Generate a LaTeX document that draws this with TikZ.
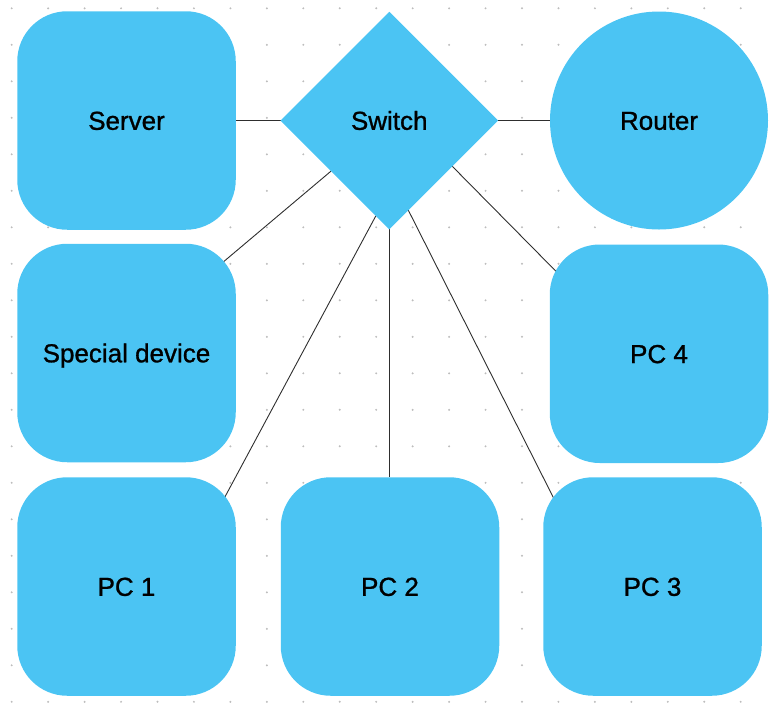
\documentclass[tikz,border=0pt]{standalone}
\usepackage{fontspec}
\setmainfont{Liberation Sans}
\newfontfamily\devicefont[FakeBold=1]{Liberation Sans}
\usepackage{xcolor}
\usetikzlibrary{positioning, shapes.geometric, calc, backgrounds}
\definecolor{devblue}{HTML}{4BC4F3}
\definecolor{griddot}{HTML}{BDBDBD}
\definecolor{wire}{HTML}{2E2E2E}

\tikzset{
  label font/.style={font=\devicefont\fontsize{26}{30}\selectfont, text height=18.6pt, text depth=0pt},
  device/.style={fill=devblue, rounded corners=50pt, minimum width=218.5pt,
                 minimum height=218.5pt, inner sep=0pt, outer sep=0pt, label font},
  hub/.style={diamond, fill=devblue, minimum width=217.5pt, minimum height=217.5pt,
              inner sep=0pt, outer sep=0pt, label font},
  gateway/.style={circle, fill=devblue, minimum size=218pt, inner sep=0pt,
                  outer sep=0pt, label font},
  link/.style={draw=wire, line width=0.9pt}
}

\begin{document}
\begin{tikzpicture}[x=1pt, y=-1pt]
  \useasboundingbox (0,0) rectangle (773,702);

  % dotted canvas
  \foreach \i in {0,...,20}
    \foreach \j in {0,...,19}
      \fill[griddot] (11.7+36.45*\i, 8.3+36.5*\j) circle (1.1pt);

  % top row
  \node[device] (server) at (126.5,120.5) {Server};
  \node[hub, right=44.75pt of server] (switch) {Switch};
  \node[gateway, right=52pt of switch] (router) {Router};

  % left column and bottom row
  \node[device, below=14pt of server] (special) {Special device};
  \node[device, below=15pt of special] (pc1) {PC 1};
  \node[device, right=45pt of pc1] (pc2) {PC 2};
  \node[device, right=44pt of pc2] (pc3) {PC 3};
  \node[device, below=15pt of router] (pc4) {PC 4};

  % cables sit under the devices
  \begin{scope}[on background layer]
    \draw[link] (server.east) -- (switch.west);
    \draw[link] (switch.east) -- (router.west);
    \draw[link] (switch.-139.4) -- ($(special.center)+(73,-71)$);
    \draw[link] (switch.-98.4) -- ($(pc1.center)+(82,-59)$);
    \draw[link] (switch.south) -- (switch.south |- pc2.north);
    \draw[link] (switch.-78.6) -- ($(pc3.center)+(-83,-57)$);
    \draw[link] (switch.-36.8) -- ($(pc4.center)+(-70,-49)$);
  \end{scope}
\end{tikzpicture}
\end{document}
